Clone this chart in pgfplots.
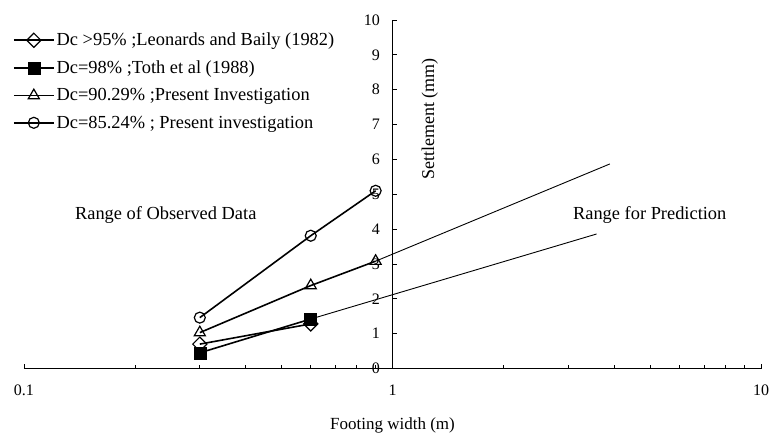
\documentclass[border=0pt]{standalone}
\usepackage{pgfplots}
\pgfplotsset{compat=1.18}
\usepackage{fontspec}
\setmainfont{Liberation Serif}
\begin{document}
\begin{tikzpicture}
\path[use as bounding box] (0,0) rectangle (775pt,-432pt);
\begin{axis}[
  at={(24pt,-368.5pt)}, anchor=south west,
  scale only axis, width=737pt, height=348.5pt,
  xmode=log, xmin=0.1, xmax=10, ymin=0, ymax=10,
  axis x line=bottom, axis y line=middle,
  axis line style={-, line width=1pt, black},
  every inner x axis line/.append style={-},
  every inner y axis line/.append style={-},
  every outer x axis line/.append style={-},
  hide obscured x ticks=false, hide obscured y ticks=false,
  xtick={0.1,1,10}, xticklabels={0.1,1,10},
  ytick={0,1,2,3,4,5,6,7,8,9,10},
  yticklabels={0,1,2,3,4,5,6,7,8,9,10},
  tick label style={font=\fontsize{16}{18}\selectfont},
  xticklabel style={yshift=-13pt},
  yticklabel style={xshift=-9pt},
  tick align=inside,
  major tick length=5pt, minor tick length=4pt,
  tick style={line width=0.8pt, black},
  clip=false,
  xlabel={Footing width (m)},
  ylabel={Settlement (mm)},
  every axis x label/.style={at={(axis cs:1,-1.63)}, anchor=center, font=\fontsize{17}{19}\selectfont},
  every axis y label/.style={at={(axis cs:1.262,7.16)}, anchor=center, rotate=90, font=\fontsize{18}{20}\selectfont},
  legend style={draw=none, fill=none, at={(axis description cs:-0.0149,0.968)}, anchor=north west,
    font=\fontsize{18.4}{20}\selectfont, row sep=9.5pt, inner sep=0pt, outer sep=0pt},
  legend cell align=left,
  legend image code/.code={\draw[mark repeat=2,mark phase=2] plot coordinates {(0pt,0pt) (20pt,0pt) (40pt,0pt)};},
]
\addplot[black, line width=0.9pt, forget plot] coordinates {(0.9,3.08) (3.89,5.87)};
\addplot[black, line width=0.9pt, forget plot] coordinates {(0.6,1.42) (3.58,3.86)};
\addplot[black, line width=1.6pt, mark=square, mark size=5pt, mark options={rotate=45, fill=white, line width=1.2pt}]
  coordinates {(0.3,0.70) (0.6,1.28)};
\addlegendentry{Dc >95\% ;Leonards and Baily (1982)}
\addplot[black, line width=1.6pt, mark=square*, mark size=6pt, mark options={fill=black, line width=0.5pt}]
  coordinates {(0.3,0.45) (0.6,1.42)};
\addlegendentry{Dc=98\% ;Toth et al (1988)}
\addplot[black, line width=1.6pt, mark=triangle, mark size=6.4pt, mark options={fill=white, line width=1.2pt}]
  coordinates {(0.3,1.03) (0.6,2.38) (0.9,3.08)};
\addlegendentry{Dc=90.29\% ;Present Investigation}
\addplot[black, line width=1.6pt, mark=o, mark size=5.5pt, mark options={fill=white, line width=1.2pt}]
  coordinates {(0.3,1.46) (0.6,3.81) (0.9,5.10)};
\addlegendentry{Dc=85.24\% ; Present investigation}
\node[font=\fontsize{18.4}{20}\selectfont] at (axis cs:0.2425,4.40) {Range of Observed Data};
\node[font=\fontsize{18.4}{20}\selectfont] at (axis cs:4.99,4.40) {Range for Prediction};
\end{axis}
\end{tikzpicture}
\end{document}
